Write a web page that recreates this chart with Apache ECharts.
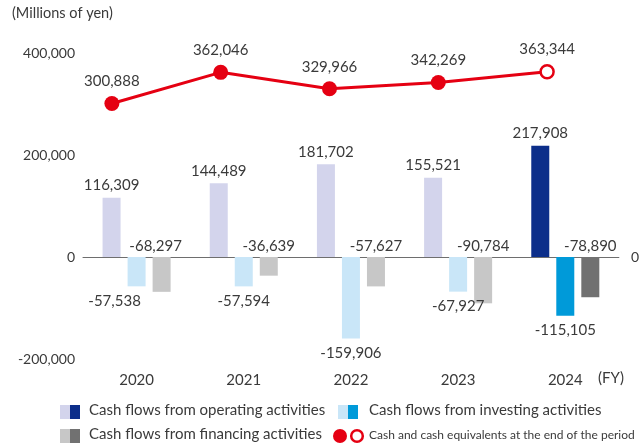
<!DOCTYPE html>
<html>
<head>
<meta charset="utf-8">
<script src="https://cdn.jsdelivr.net/npm/echarts@6/dist/echarts.min.js"></script>
<style>
	html, body { margin: 0; padding: 0; background: #fff; }
	#chart { width: 642px; height: 448px; }
</style>
</head>
<body>
<div id="chart"></div>
<script>
	// data
	var years = ['2020', '2021', '2022', '2023', '2024'];
	var operating = [116309, 144489, 181702, 155521, 217908];
	var investing = [-57538, -57594, -159906, -67927, -115105];
	var financing = [-68297, -36639, -57627, -90784, -78890];
	var cashEnd = [300888, 362046, 329966, 342269, 363344];
	var yTicks = [-200000, 0, 200000, 400000];

	var txt = '#3a3a3a';
	var font = 'Lato';
	function fmt(v) { return Number(v).toLocaleString('en-US'); }

	// last year drawn in dark colour; first year's label nudged left like the original
	function paint(arr, light, dark, firstShift) {
		return arr.map(function (v, i) {
			var d = { value: v, itemStyle: { color: i === arr.length - 1 ? dark : light } };
			if (i === 0 && firstShift) d.label = { offset: [firstShift, 0] };
			return d;
		});
	}

	var chart = echarts.init(document.getElementById('chart'));

	var valueAxis = {
		type: 'value',
		min: yTicks[0],
		max: yTicks[yTicks.length - 1],
		interval: 200000,
		splitLine: { show: false },
		axisLine: { show: false },
		axisTick: { show: false }
	};

	var option = {
		animation: false,
		textStyle: { fontFamily: font },
		grid: [
			{ left: 83, right: 15, top: 53, bottom: 89 },
			{ left: 57.5, right: 40.5, top: 53, bottom: 89 }
		],
		xAxis: [
			{
				type: 'category', gridIndex: 0, data: years,
				axisLine: { onZero: true, lineStyle: { color: '#6e6e6e', width: 1 } },
				axisTick: { show: false }, axisLabel: { show: false }
			},
			{ type: 'category', gridIndex: 1, data: years, show: false },
			{
				type: 'category', gridIndex: 0, data: years, position: 'bottom',
				axisLine: { show: false, onZero: false }, axisTick: { show: false },
				axisLabel: { color: txt, fontSize: 15, margin: 14 }
			}
		],
		yAxis: [
			Object.assign({}, valueAxis, {
				gridIndex: 0,
				axisLabel: { color: txt, fontSize: 14, margin: 8, formatter: fmt }
			}),
			Object.assign({}, valueAxis, {
				gridIndex: 0, position: 'right',
				axisLabel: { color: txt, fontSize: 14, margin: 12,
					formatter: function (v) { return v === 0 ? '0' : ''; } }
			}),
			Object.assign({}, valueAxis, { gridIndex: 1, show: false })
		],
		series: [
			{
				name: 'Cash flows from operating activities', type: 'bar',
				xAxisIndex: 0, yAxisIndex: 0, barWidth: 18, barGap: '39%',
				data: paint(operating, '#d3d4ec', '#0c2e8a'),
				label: { show: true, position: 'top', distance: 5, color: txt, fontSize: 15, formatter: function (p) { return fmt(p.value); } }
			},
			{
				name: 'Cash flows from investing activities', type: 'bar',
				xAxisIndex: 0, yAxisIndex: 0, barWidth: 18, barGap: '39%',
				data: paint(investing, '#c9e6f8', '#009ad9', -22),
				label: { show: true, position: 'bottom', distance: 7, color: txt, fontSize: 15, formatter: function (p) { return fmt(p.value); } }
			},
			{
				name: 'Cash flows from financing activities', type: 'bar',
				xAxisIndex: 0, yAxisIndex: 0, barWidth: 18, barGap: '39%',
				data: paint(financing, '#c7c7c7', '#717171', -6),
				label: { show: true, position: 'top', distance: 3, color: txt, fontSize: 15, formatter: function (p) { return fmt(p.value); } }
			},
			{
				name: 'Cash and cash equivalents at the end of the period', type: 'line',
				xAxisIndex: 1, yAxisIndex: 2,
				data: cashEnd.map(function (v, i) {
					if (i === cashEnd.length - 1) {
						return { value: v, symbolSize: 13, itemStyle: { color: '#fff', borderColor: '#e50012', borderWidth: 2.5 } };
					}
					return v;
				}),
				symbol: 'circle', symbolSize: 15,
				lineStyle: { color: '#e50012', width: 3 },
				itemStyle: { color: '#e50012' },
				label: { show: true, position: 'top', distance: 7, color: txt, fontSize: 15, formatter: function (p) { return fmt(p.value); } }
			}
		],
		graphic: [
			{ type: 'text', left: 12, top: 6, style: { text: '(Millions of yen)', fill: txt, font: '14.5px Lato' } },
			{ type: 'text', left: 598, top: 371, style: { text: '(FY)', fill: txt, font: '15px Lato' } },
			// legend row 1
			{ type: 'rect', shape: { x: 60, y: 405, width: 10, height: 14 }, style: { fill: '#d3d4ec' } },
			{ type: 'rect', shape: { x: 70, y: 405, width: 10, height: 14 }, style: { fill: '#0c2e8a' } },
			{ type: 'text', left: 89, top: 403, style: { text: 'Cash flows from operating activities', fill: txt, font: '15px Lato' } },
			{ type: 'rect', shape: { x: 338, y: 405, width: 10, height: 14 }, style: { fill: '#c9e6f8' } },
			{ type: 'rect', shape: { x: 348, y: 405, width: 10, height: 14 }, style: { fill: '#009ad9' } },
			{ type: 'text', left: 369, top: 403, style: { text: 'Cash flows from investing activities', fill: txt, font: '15px Lato' } },
			// legend row 2
			{ type: 'rect', shape: { x: 60, y: 429, width: 10, height: 14 }, style: { fill: '#c7c7c7' } },
			{ type: 'rect', shape: { x: 70, y: 429, width: 10, height: 14 }, style: { fill: '#717171' } },
			{ type: 'text', left: 89, top: 427, style: { text: 'Cash flows from financing activities', fill: txt, font: '15px Lato' } },
			{ type: 'circle', shape: { cx: 340, cy: 436, r: 7 }, style: { fill: '#e50012' } },
			{ type: 'circle', shape: { cx: 357, cy: 436, r: 5.8 }, style: { fill: '#fff', stroke: '#e50012', lineWidth: 2.5 } },
			{ type: 'text', left: 369, top: 429, style: { text: 'Cash and cash equivalents at the end of the period', fill: txt, font: '12px Lato' } }
		]
	};

	chart.setOption(option);
</script>
</body>
</html>
